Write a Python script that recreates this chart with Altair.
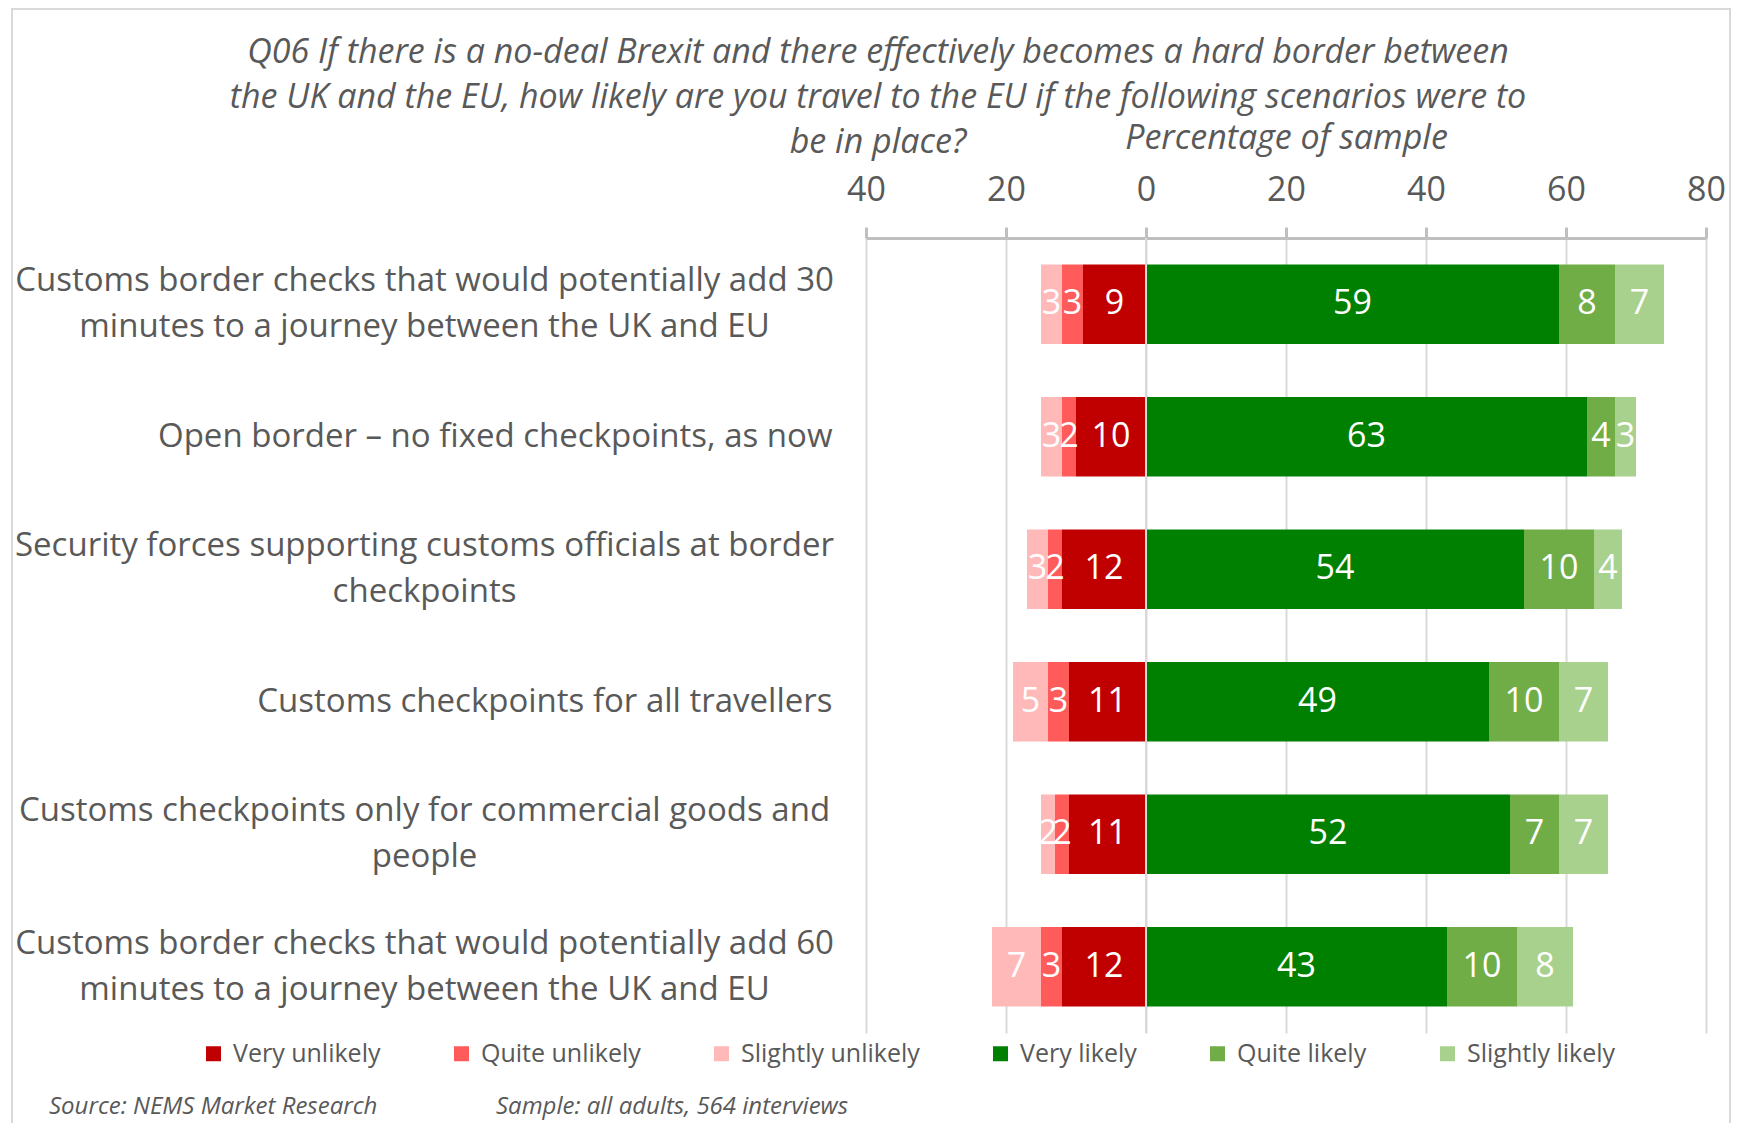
import altair as alt
import pandas as pd

categories = [
    "Customs border checks that would potentially add 30|minutes to a journey between the UK and EU",
    "Open border \u2013 no fixed checkpoints, as now",
    "Security forces supporting customs officials at border|checkpoints",
    "Customs checkpoints for all travellers",
    "Customs checkpoints only for commercial goods and|people",
    "Customs border checks that would potentially add 60|minutes to a journey between the UK and EU",
]
responses = ["Very unlikely", "Quite unlikely", "Slightly unlikely",
             "Very likely", "Quite likely", "Slightly likely"]
colors = ["#C00000", "#FF5B5B", "#FFB9B9", "#008000", "#70AD47", "#A9D18E"]

very_unlikely = [9, 10, 12, 11, 11, 12]
quite_unlikely = [3, 2, 2, 3, 2, 3]
slightly_unlikely = [3, 3, 3, 5, 2, 7]
very_likely = [59, 63, 54, 49, 52, 43]
quite_likely = [8, 4, 10, 10, 7, 10]
slightly_likely = [7, 3, 4, 7, 7, 8]

title_lines = [
    "Q06 If there is a no-deal Brexit and there effectively becomes a hard border between",
    "the UK and the EU, how likely are you travel  to the EU if the following scenarios were to",
    "be in place?",
]
axis_title = "Percentage of sample"
source_note = "Source: NEMS Market Research"
sample_note = "Sample: all adults, 564 interviews"
x_ticks = [-40, -20, 0, 20, 40, 60, 80]

rows = []
for i, cat in enumerate(categories):
    neg = [very_unlikely[i], quite_unlikely[i], slightly_unlikely[i]]
    pos = [very_likely[i], quite_likely[i], slightly_likely[i]]
    s = 0
    for r, v in zip(responses[:3], neg):
        rows.append(dict(category=cat, response=r, value=v, start=-s, end=-(s + v), mid=-(s + v / 2)))
        s += v
    s = 0
    for r, v in zip(responses[3:], pos):
        rows.append(dict(category=cat, response=r, value=v, start=s, end=s + v, mid=s + v / 2))
        s += v
df = pd.DataFrame(rows)

FONT = "Open Sans"
GREY = "#595959"

multi = "indexof(datum.value, '|') >= 0"

x_axis = alt.Axis(orient="top", values=x_ticks, labelExpr="abs(datum.value)",
                  title=axis_title, titleFontStyle="italic", titleFontSize=34,
                  titleFont=FONT, titleFontWeight="normal", titleColor=GREY,
                  titleY=-90, titleBaseline="alphabetic",
                  labelFontSize=34, labelColor=GREY, labelFont=FONT,
                  labelPadding=27, labelBaseline="alphabetic", labelFlush=False,
                  domainColor="#BFBFBF", domainWidth=3,
                  tickColor="#BFBFBF", tickWidth=3, tickSize=11,
                  grid=True, gridColor="#D9D9D9", gridWidth=2)
y_axis = alt.Axis(title=None, domain=False, ticks=False, tickSize=0, grid=False,
                  labelExpr="split(datum.label, '|')",
                  labelFontSize=33, labelFont=FONT, labelColor=GREY,
                  labelLineHeight=46, labelLimit=2000, labelBaseline="middle",
                  labelAlign={"condition": {"test": multi, "value": "center"}, "value": "right"},
                  labelPadding={"condition": {"test": multi, "value": 442}, "value": 34},
                  labelOffset={"condition": {"test": multi, "value": -23}, "value": 0})
x_scale = alt.Scale(domain=[-40, 80], nice=False, zero=False)
y_scale = alt.Scale(paddingInner=0.4, paddingOuter=0.2)

bars = alt.Chart(df).mark_bar().encode(
    x=alt.X("start:Q", scale=x_scale, axis=x_axis),
    x2="end:Q",
    y=alt.Y("category:N", sort=categories, scale=y_scale, axis=y_axis),
    color=alt.Color("response:N",
                    scale=alt.Scale(domain=responses, range=colors),
                    legend=alt.Legend(title=None, orient="none", direction="horizontal",
                                      legendX=-665, legendY=803, symbolType="square",
                                      symbolSize=225, symbolStrokeWidth=0, symbolOpacity=1,
                                      labelFontSize=25, labelFont=FONT, labelColor=GREY,
                                      labelLimit=400, columnPadding=68, labelOffset=7)),
)

zero = alt.Chart(pd.DataFrame({"x": [0]})).mark_rule(color="#D9D9D9", strokeWidth=2).encode(
    x=alt.X("x:Q", scale=x_scale, axis=x_axis))

labels = alt.Chart(df).mark_text(color="white", fontSize=34, font=FONT, baseline="middle").encode(
    x=alt.X("mid:Q", scale=x_scale, axis=x_axis),
    y=alt.Y("category:N", sort=categories, scale=y_scale, axis=y_axis),
    text="value:Q",
)

note_style = dict(align="left", baseline="alphabetic", fontSize=24, fontStyle="italic",
                  font=FONT, color=GREY)
src = alt.Chart(pd.DataFrame({"t": [source_note]})).mark_text(**note_style).encode(
    x=alt.value(-817), y=alt.value(876), text="t:N")
smp = alt.Chart(pd.DataFrame({"t": [sample_note]})).mark_text(**note_style).encode(
    x=alt.value(-370), y=alt.value(876), text="t:N")

frame = alt.Chart(pd.DataFrame({"f": [1]})).mark_rect(
    fillOpacity=0, stroke="#D9D9D9", strokeWidth=2).encode(
    x=alt.value(-854), x2=alt.value(864), y=alt.value(-229), y2=alt.value(920))

chart = alt.layer(frame, bars, zero, labels, src, smp).properties(
    width=840, height=795,
    padding={"left": 858, "top": 230, "right": 26, "bottom": 90},
    autosize=alt.AutoSizeParams(type="none"),
    title=alt.TitleParams(text=title_lines, fontSize=34, fontStyle="italic", font=FONT,
                          fontWeight="normal", color=GREY, anchor="middle", frame="group",
                          dx=-408, dy=156, lineHeight=45),
).configure_view(strokeWidth=0)

chart.save("out.html", embed_options={"renderer": "svg", "actions": False})
